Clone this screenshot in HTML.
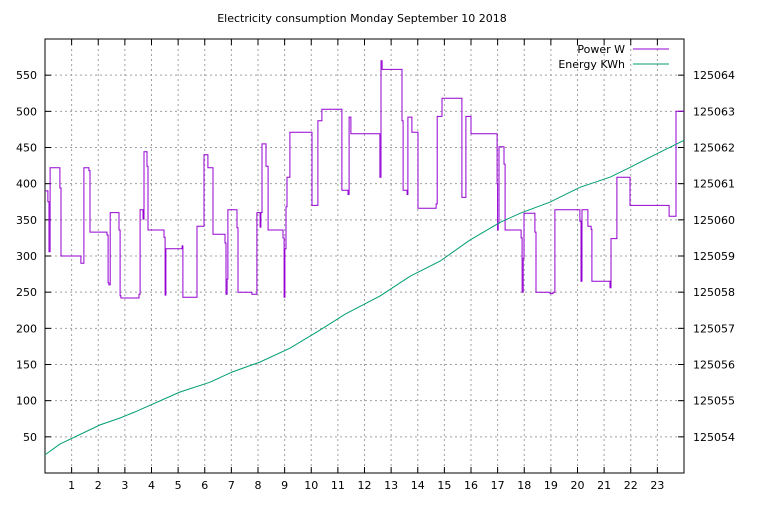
<!DOCTYPE html>
<html><head><meta charset="utf-8"><style>
body{margin:0;background:#fff;}
svg text{font-family:"DejaVu Sans","Liberation Sans",sans-serif;font-size:11px;fill:#000;}
</style></head><body>
<svg id="chart" width="768" height="500" xmlns="http://www.w3.org/2000/svg">
<text x="362" y="22" text-anchor="middle">Electricity consumption Monday September 10 2018</text>
<g id="grid"></g><g id="axes"></g><g id="series"></g>
<g>
<text x="625" y="53" text-anchor="end">Power W</text>
<line x1="633" y1="49" x2="669" y2="49" stroke="#9400d3" stroke-width="1"/>
<text x="625" y="68" text-anchor="end">Energy KWh</text>
<line x1="633" y1="64" x2="669" y2="64" stroke="#009e73" stroke-width="1"/>
</g>
</svg>
<script>
const xTicks=[1,2,3,4,5,6,7,8,9,10,11,12,13,14,15,16,17,18,19,20,21,22,23];
const yTicks=[50,100,150,200,250,300,350,400,450,500,550];
const y2Ticks=[125054,125055,125056,125057,125058,125059,125060,125061,125062,125063,125064];
const powerHours=[0,0.11,0.15,0.19,0.56,0.6,1.35,1.46,1.65,1.69,2.33,2.37,2.4,2.45,2.78,2.82,2.85,3.53,3.57,3.68,3.72,3.83,3.87,4.47,4.51,4.54,5.15,5.18,5.71,5.97,6.12,6.31,6.76,6.8,6.84,6.87,7.21,7.25,7.77,7.96,8.08,8.11,8.15,8.3,8.38,8.94,8.98,9.01,9.05,9.09,9.2,10.03,10.25,10.4,11.15,11.38,11.42,11.49,12.58,12.62,12.66,13.41,13.45,13.6,13.63,13.78,14.01,14.69,14.73,14.91,15.66,15.81,16,16.98,17.0,17.02,17.05,17.24,17.28,17.88,17.92,17.96,17.99,18.4,18.44,18.97,19.08,19.15,20.09,20.13,20.17,20.39,20.51,20.54,21.22,21.26,21.48,21.97,23.44,23.7];
const powerValues=[390,375,306,422,394,300,290,422,418,333,329,263,260,360,336,245,242,247,364,351,444,424,336,326,246,310,314,243,341,440,422,330,318,247,268,364,339,250,247,360,340,360,455,424,336,325,243,310,368,409,471,370,487,503,391,385,492,469,409,570,558,487,391,385,492,471,366,372,493,518,381,493,469,400,336,345,451,427,336,325,250,297,359,333,250,248,250,364,348,265,364,341,337,265,256,324,409,370,355,500];
const energyHours=[0,0.56,2.07,2.82,3.38,5.07,6.2,7.02,8.08,9.2,10.33,11.27,12.58,13.71,14.84,15.96,17.09,17.84,18.97,20.09,21.22,21.97,23.1,24];
const energyValues=[125053.5,125053.8,125054.33,125054.52,125054.69,125055.24,125055.51,125055.79,125056.07,125056.45,125056.95,125057.39,125057.89,125058.44,125058.86,125059.44,125059.93,125060.18,125060.49,125060.9,125061.18,125061.45,125061.87,125062.2];
const L=45,R=684,T=39,B=473;
const X=h=>L+(R-L)*h/24;
const Y=v=>B-(B-T)*v/600;
const Y2=v=>B-(B-T)*(v-125053)/12;
const NS="http://www.w3.org/2000/svg";
function mk(tag,parent,attrs){const e=document.createElementNS(NS,tag);for(const k in attrs)e.setAttribute(k,attrs[k]);document.getElementById(parent).appendChild(e);return e;}
xTicks.forEach(t=>{
 const g=mk('line','grid',{x1:X(t),x2:X(t),y1:T,y2:B,stroke:'#a0a0a0','stroke-dasharray':'2,3'});
 
 
 const tk=mk('line','axes',{x1:X(t),x2:X(t),y1:B,y2:B-6,stroke:'#000'});
 
 
 const tk2=mk('line','axes',{x1:X(t),x2:X(t),y1:T,y2:T+6,stroke:'#000'});
 
 
 const tx=mk('text','axes',{x:X(t),y:B+16,'text-anchor':'middle'});tx.textContent=t;
 
 
});
yTicks.forEach(t=>{
 const g=mk('line','grid',{x1:L,x2:R,y1:Y(t),y2:Y(t),stroke:'#a0a0a0','stroke-dasharray':'2,3'});
 
 
 const tk=mk('line','axes',{x1:L,x2:L+6,y1:Y(t),y2:Y(t),stroke:'#000'});
 
 
 const tx=mk('text','axes',{x:L-8,y:Y(t)+4,'text-anchor':'end'});tx.textContent=t;
 
 
});
y2Ticks.forEach(t=>{
 const tk=mk('line','axes',{x1:R-6,x2:R,y1:Y2(t),y2:Y2(t),stroke:'#000'});
 
 
 const tx=mk('text','axes',{x:R+9,y:Y2(t)+4,'text-anchor':'start'});tx.textContent=t;
 
 
});
const fr=mk('rect','axes',{x:L,y:T,width:R-L,height:B-T,fill:'none',stroke:'#000','stroke-width':1});


let d='';
powerHours.forEach((h,i)=>{const nx=i+1<powerHours.length?powerHours[i+1]:24;
 d+=(i?'L':'M')+X(h).toFixed(1)+','+Y(powerValues[i]).toFixed(1)+'L'+X(nx).toFixed(1)+','+Y(powerValues[i]).toFixed(1);});
const p=mk('path','series',{d:d,fill:'none',stroke:'#9400d3','stroke-width':1});


const e=mk('polyline','series',{points:energyHours.map((h,i)=>X(h).toFixed(1)+','+Y2(energyValues[i]).toFixed(1)).join(' '),fill:'none',stroke:'#009e73','stroke-width':1});


</script>
</body></html>
